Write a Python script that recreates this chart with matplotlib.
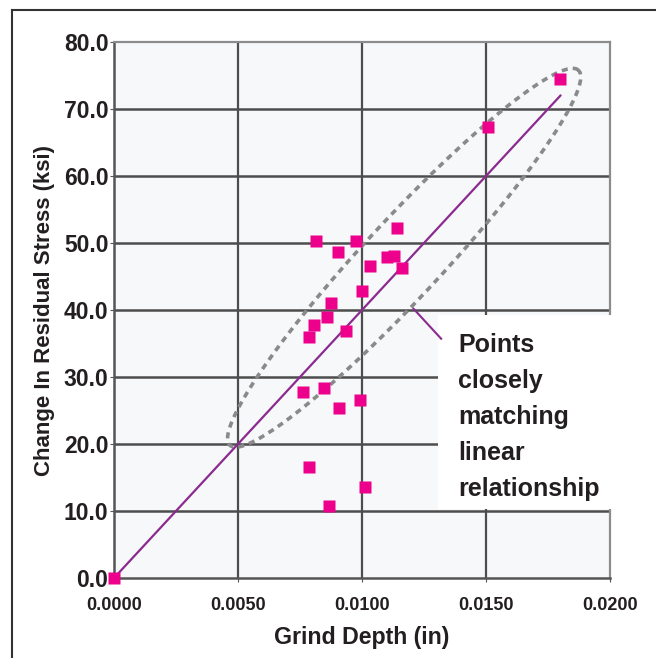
import numpy as np
import matplotlib
matplotlib.use("Agg")
import matplotlib.pyplot as plt
from matplotlib.lines import Line2D
from matplotlib.patches import Rectangle

plt.rcParams['font.family'] = ['Liberation Sans', 'DejaVu Sans']
plt.rcParams['font.weight'] = 'bold'

# --- measured points: grind depth (in) vs change in residual stress (ksi) ---
grind_depth = [0.0, 0.0180, 0.0151, 0.00813, 0.00976, 0.0114, 0.00903, 0.0110,
               0.01128, 0.01161, 0.01031, 0.00999, 0.00874, 0.00858, 0.00806,
               0.00934, 0.00786, 0.00762, 0.00847, 0.00906, 0.00992, 0.00786,
               0.01012, 0.00867]
stress_change = [0.0, 74.5, 67.3, 50.3, 50.3, 52.3, 48.6, 47.9,
                 48.1, 46.2, 46.5, 42.9, 41.1, 39.0, 37.7,
                 36.9, 36.0, 27.7, 28.4, 25.4, 26.5, 16.5,
                 13.6, 10.8]

# linear relationship line
fit_x = [0.0, 0.0180]
fit_y = [0.0, 72.0]

x_ticks = [0.0, 0.005, 0.010, 0.015, 0.020]
x_tick_labels = ['0.0000', '0.0050', '0.0100', '0.0150', '0.0200']
y_ticks = [0, 10, 20, 30, 40, 50, 60, 70, 80]
y_tick_labels = ['0.0', '10.0', '20.0', '30.0', '40.0', '50.0', '60.0', '70.0', '80.0']

note = "Points\nclosely\nmatching\nlinear\nrelationship"

text_col = '#231f20'
pink = '#ec008c'
purple = '#8b2a8f'

fig = plt.figure(figsize=(6.56, 6.58), dpi=100)
ax = fig.add_axes([114 / 656, 80 / 658, 496 / 656, 536 / 658])
ax.set_facecolor('#f7f8fa')
ax.set_xlim(0, 0.02)
ax.set_ylim(0, 80)

# grid
for yv in y_ticks[1:-1]:
    ax.axhline(yv, color='#4d4d4d', lw=1.8, zorder=1)
for xv in x_ticks[1:-1]:
    ax.axvline(xv, color='#4d4d4d', lw=1.6, zorder=1)

for side in ['left', 'bottom']:
    ax.spines[side].set_color('#555555')
    ax.spines[side].set_linewidth(1.8)
for side in ['top', 'right']:
    ax.spines[side].set_color('#8c8c8c')
    ax.spines[side].set_linewidth(1.6)

ax.set_xticks(x_ticks)
ax.set_xticklabels(x_tick_labels, fontsize=13, fontweight='bold', color=text_col)
ax.set_yticks(y_ticks)
ax.set_yticklabels(y_tick_labels, fontsize=16.5, fontweight='bold', color=text_col)
ax.tick_params(axis='x', length=3, pad=11, color='#555555')
ax.tick_params(axis='y', length=3, pad=1, color='#555555')

ax.set_xlabel('Grind Depth (in)', fontsize=16.7, fontweight='bold', color=text_col, labelpad=8)
ax.set_ylabel('Change In Residual Stress (ksi)', fontsize=16, fontweight='bold',
              color=text_col, labelpad=6)

# dashed ellipse around the points that follow the line (built in pixel space)
pos = ax.get_position()
sx = pos.width * fig.get_figwidth() * fig.dpi / 0.02
sy = pos.height * fig.get_figheight() * fig.dpi / 80
cx, cy = 0.0117, 47.8
semi_a, semi_b, ang = 256, 39, np.deg2rad(47.1)
t = np.linspace(0, 2 * np.pi, 300)
px = semi_a * np.cos(t) * np.cos(ang) - semi_b * np.sin(t) * np.sin(ang)
py = semi_a * np.cos(t) * np.sin(ang) + semi_b * np.sin(t) * np.cos(ang)
ax.plot(cx + px / sx, cy + py / sy, color='#8a8a8a', lw=2.6,
        linestyle=(0, (1.7, 1.4)), zorder=2)

ax.plot(fit_x, fit_y, color=purple, lw=1.6, zorder=3)

# callout box, text and pointer
ax.add_patch(Rectangle((0.01306, 10.3), 0.0073, 29.0, facecolor='white',
                       edgecolor='none', zorder=4, clip_on=False))
ax.text(0.01387, 36.5, note, fontsize=18, fontweight='bold', color=text_col,
        ha='left', va='top', linespacing=1.62, zorder=5)
ax.plot([0.01205, 0.01322], [40.3, 35.6], color=purple, lw=1.5, zorder=5,
        solid_capstyle='butt')

ax.plot(grind_depth, stress_change, linestyle='none', marker='s', markersize=8.5,
        markerfacecolor=pink, markeredgecolor='none', zorder=6, clip_on=False)

# page frame lines (top and left)
fig.add_artist(Line2D([12 / 656, 1.0], [1 - 10 / 658, 1 - 10 / 658], color='#333333', lw=1.5))
fig.add_artist(Line2D([12 / 656, 12 / 656], [0, 1 - 10 / 658], color='#333333', lw=1.5))

fig.savefig('out.png', dpi=100)
